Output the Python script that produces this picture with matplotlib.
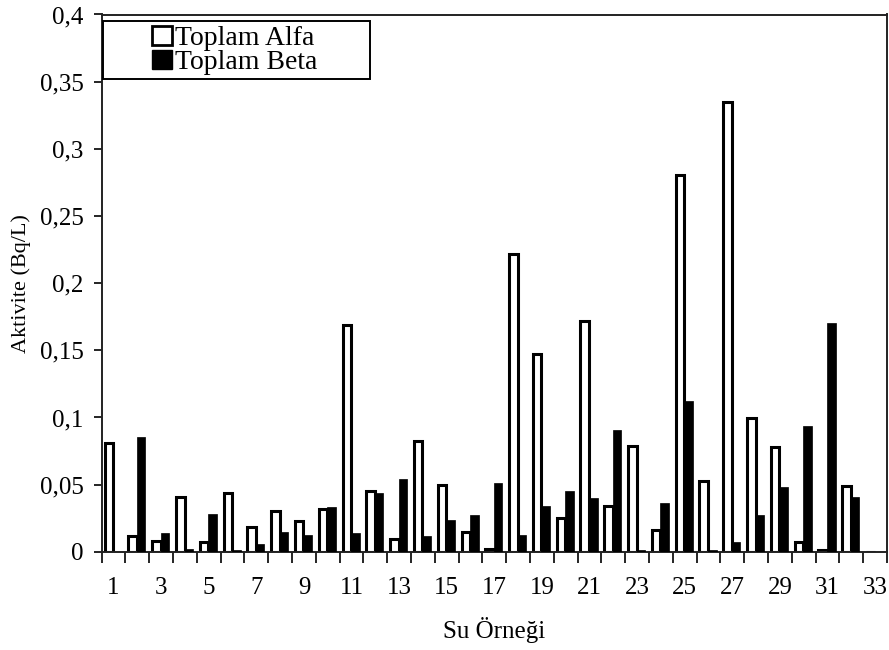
import matplotlib
matplotlib.use("Agg")
import matplotlib.pyplot as plt
from matplotlib.patches import Rectangle, Patch
import numpy as np

plt.rcParams['font.family'] = ['Liberation Serif', 'DejaVu Serif']

samples = list(range(1, 34))
toplam_alfa = [0.081, 0.012, 0.008, 0.041, 0.0075, 0.044, 0.0187, 0.0307, 0.0227, 0.0315,
               0.1687, 0.0453, 0.0093, 0.0826, 0.0501, 0.0147, 0.002, 0.2217, 0.1474, 0.0253,
               0.1719, 0.0341, 0.0786, 0.0165, 0.2804, 0.0525, 0.3345, 0.0999, 0.0778, 0.0072,
               0.001, 0.0493, 0.0]
toplam_beta = [0.0, 0.0853, 0.0139, 0.002, 0.0285, 0.001, 0.006, 0.0147, 0.0128, 0.0333,
               0.0139, 0.044, 0.0541, 0.012, 0.024, 0.0272, 0.0512, 0.0128, 0.0341, 0.0453,
               0.04, 0.0906, 0.001, 0.0365, 0.1119, 0.001, 0.0072, 0.0272, 0.0485, 0.0938,
               0.1706, 0.0405, 0.0]
y_ticks = [0, 0.05, 0.1, 0.15, 0.2, 0.25, 0.3, 0.35, 0.4]
y_tick_labels = ["0", "0,05", "0,1", "0,15", "0,2", "0,25", "0,3", "0,35", "0,4"]
x_tick_labels = [str(s) for s in samples if s % 2 == 1]
labels = ["Toplam Alfa", "Toplam Beta"]

fig = plt.figure(figsize=(8.89, 6.5), dpi=100)
ax = fig.add_axes([101.7/889, 1-551.8/650, (887-101.7)/889, (551.8-14.5)/650])

x = np.array(samples, dtype=float)
w = 0.36
off = -0.02
ax.bar(x + off - w/2, toplam_alfa, width=w, color='white', edgecolor='black', linewidth=2.2, zorder=2)
ax.bar(x + off + w/2, toplam_beta, width=w, color='black', edgecolor='black', linewidth=0.5, zorder=3)

ax.set_xlim(0.5, 33.5)
ax.set_ylim(0, 0.4)
ax.set_yticks(y_ticks)
ax.set_yticklabels(y_tick_labels, fontsize=18)
ax.tick_params(axis='y', direction='out', length=6, width=1.2, pad=7)

ax.set_xticks([s for s in samples if s % 2 == 1])
ax.set_xticklabels(x_tick_labels, fontsize=18)
ax.set_xticks(np.arange(0.5, 34.0, 1.0), minor=True)
ax.tick_params(axis='x', which='major', length=0, pad=18)
ax.tick_params(axis='x', which='minor', direction='out', length=8, width=1.2)

for s in ax.spines.values():
    s.set_linewidth(1.4)
    s.set_color('#222222')

ax.set_xlabel("Su Örneği", fontsize=18, labelpad=13)
ax.set_ylabel("Aktivite (Bq/L)", fontsize=16, labelpad=6)

# legend frame
ax.add_patch(Rectangle((0.0017, 0.880), 0.3405, 0.1085, transform=ax.transAxes,
                       facecolor='white', edgecolor='black', linewidth=1.4, zorder=5))
handles = [Patch(facecolor='white', edgecolor='black', linewidth=2.0),
           Patch(facecolor='black', edgecolor='black')]
leg = ax.legend(handles, labels, loc='upper left', bbox_to_anchor=(0.0645, 0.978),
                frameon=False, fontsize=20, handlelength=0.7, handleheight=0.65,
                handletextpad=0.12, labelspacing=-0.04, borderpad=0, borderaxespad=0)
leg.set_zorder(6)

fig.savefig("out.png", dpi=100)
